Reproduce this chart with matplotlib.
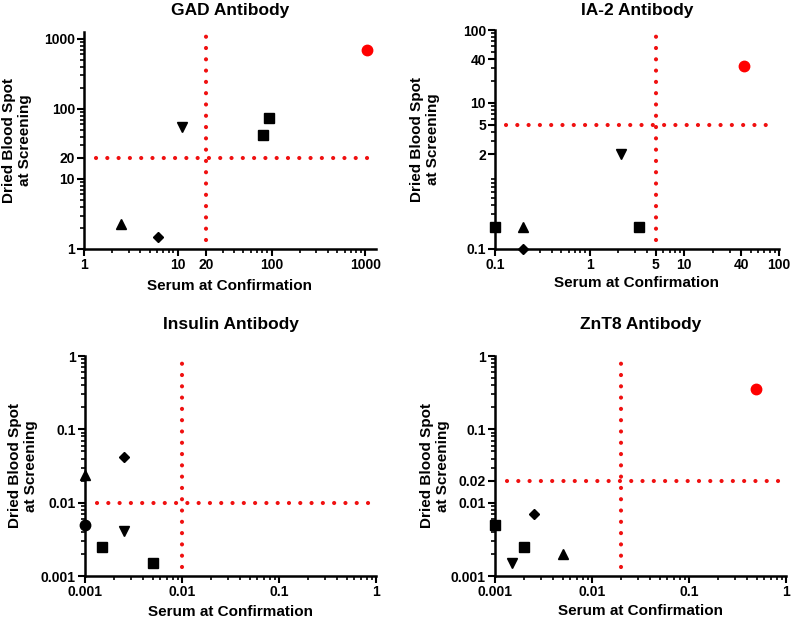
import matplotlib
matplotlib.use("Agg")
import matplotlib.pyplot as plt
from matplotlib.ticker import FixedLocator, FixedFormatter, LogLocator, NullFormatter

plt.rcParams['font.family'] = ['Liberation Sans', 'DejaVu Sans']
plt.rcParams['font.weight'] = 'bold'

# marker per subject: two squares, down triangle, up triangle, diamond, circle
markers = ['s', 's', 'v', '^', 'D', 'o']
sizes = [6.5, 6.5, 6.5, 6.5, 4.8, 7.5]

gad_x = [82, 94, 11.2, 2.5, 6.2, 1050]
gad_y = [43, 75, 55, 2.3, 1.5, 690]
gad_colors = ['black'] * 5 + ['red']

ia2_x = [0.1, 3.3, 2.15, 0.2, 0.2, 43]
ia2_y = [0.2, 0.2, 2.0, 0.2, 0.1, 32]
ia2_colors = ['black'] * 5 + ['red']

ins_x = [0.0015, 0.005, 0.0025, 0.001, 0.0025, 0.001]
ins_y = [0.0025, 0.0015, 0.0041, 0.024, 0.042, 0.005]
ins_colors = ['black'] * 6

znt_x = [0.001, 0.002, 0.0015, 0.005, 0.0025, 0.49]
znt_y = [0.005, 0.0025, 0.0015, 0.002, 0.007, 0.35]
znt_colors = ['black'] * 5 + ['red']

# rect = left, top, right, bottom of the axes in pixels
# txt = (title y, xlabel y, ylabel x) in pixels
panels = [
    dict(title='GAD Antibody', x=gad_x, y=gad_y, c=gad_colors, cut=20,
         xlim=(1, 1300), ylim=(1, 1250),
         xticks=[1, 10, 20, 100, 1000], xlabels=['1', '10', '20', '100', '1000'],
         yticks=[1, 10, 20, 100, 1000], ylabels=['1', '10', '20', '100', '1000'],
         rect=[84, 32, 376, 249], txt=(11, 286, 17)),
    dict(title='IA-2 Antibody', x=ia2_x, y=ia2_y, c=ia2_colors, cut=5,
         xlim=(0.1, 100), ylim=(0.1, 100),
         xticks=[0.1, 1, 5, 10, 40, 100], xlabels=['0.1', '1', '5', '10', '40', '100'],
         yticks=[0.1, 2, 5, 10, 40, 100], ylabels=['0.1', '2', '5', '10', '40', '100'],
         rect=[495, 30, 779, 249], txt=(10, 283, 425)),
    dict(title='Insulin Antibody', x=ins_x, y=ins_y, c=ins_colors, cut=0.01,
         xlim=(0.001, 1), ylim=(0.001, 1),
         xticks=[0.001, 0.01, 0.1, 1], xlabels=['0.001', '0.01', '0.1', '1'],
         yticks=[0.001, 0.01, 0.1, 1], ylabels=['0.001', '0.01', '0.1', '1'],
         rect=[85, 356, 376, 576], txt=(325, 612, 23)),
    dict(title='ZnT8 Antibody', x=znt_x, y=znt_y, c=znt_colors, cut=0.02,
         xlim=(0.001, 1), ylim=(0.001, 1),
         xticks=[0.001, 0.01, 0.1, 1], xlabels=['0.001', '0.01', '0.1', '1'],
         yticks=[0.001, 0.01, 0.02, 0.1, 1], ylabels=['0.001', '0.01', '0.02', '0.1', '1'],
         rect=[495, 356, 786, 576], txt=(324, 611, 435)),
]

W, H = 800, 620
fig = plt.figure(figsize=(W / 100, H / 100), dpi=100)

for p in panels:
    l, t, r, b = p['rect']
    ax = fig.add_axes([l / W, 1 - b / H, (r - l) / W, (b - t) / H])
    ax.set_xscale('log')
    ax.set_yscale('log')
    ax.set_xlim(*p['xlim'])
    ax.set_ylim(*p['ylim'])

    # threshold lines (round dots)
    dot = dict(color='#f01010', lw=3.0, linestyle=(0, (0.01, 2.7)),
               dash_capstyle='round', zorder=1)
    ax.axhline(p['cut'], xmin=0.04, xmax=0.98, **dot)
    ax.axvline(p['cut'], ymin=0.04, ymax=1.0, **dot)

    for xi, yi, m, s, c in zip(p['x'], p['y'], markers, sizes, p['c']):
        ax.plot(xi, yi, marker=m, ms=s, color=c, linestyle='none', clip_on=False, zorder=3)

    for side in ['top', 'right']:
        ax.spines[side].set_visible(False)
    for side in ['left', 'bottom']:
        ax.spines[side].set_linewidth(1.8)

    ax.xaxis.set_major_locator(FixedLocator(p['xticks']))
    ax.xaxis.set_major_formatter(FixedFormatter(p['xlabels']))
    ax.yaxis.set_major_locator(FixedLocator(p['yticks']))
    ax.yaxis.set_major_formatter(FixedFormatter(p['ylabels']))
    for axis in [ax.xaxis, ax.yaxis]:
        axis.set_minor_locator(LogLocator(base=10, subs=range(2, 10), numticks=20))
        axis.set_minor_formatter(NullFormatter())
    ax.tick_params(which='major', length=5, width=1.5, labelsize=10, pad=1.5)
    ax.tick_params(which='minor', length=3, width=1.2)

    ty, xly, ylx = p['txt']
    cx = (l + r) / 2
    cy = (t + b) / 2
    fig.text(cx / W, 1 - ty / H, p['title'], fontsize=12.5, fontweight='bold',
             ha='center', va='center')
    fig.text(cx / W, 1 - xly / H, 'Serum at Confirmation', fontsize=11,
             fontweight='bold', ha='center', va='center')
    fig.text(ylx / W, 1 - cy / H, 'Dried Blood Spot\nat Screening', fontsize=11,
             fontweight='bold', ha='center', va='center', rotation=90,
             multialignment='center', linespacing=1.1)

fig.savefig('out.png', dpi=100)
